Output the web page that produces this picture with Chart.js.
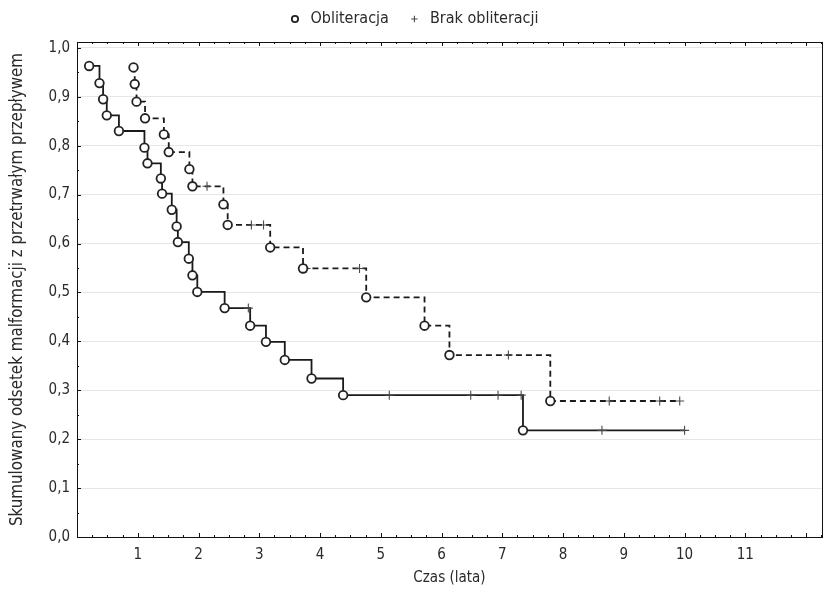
<!DOCTYPE html>
<html><head><meta charset="utf-8">
<script src="https://cdn.jsdelivr.net/npm/chart.js@4.4.1/dist/chart.umd.min.js"></script>
<style>html,body{margin:0;padding:0;background:#fff;}#wrap{width:828px;height:601px;}</style>
</head><body><div id="wrap"><canvas id="c" width="828" height="601"></canvas></div>
<script>
// Group 1 (solid line): event times and survival after each event
const solidTimes = [0.20, 0.37, 0.43, 0.49, 0.69, 1.11, 1.16, 1.38, 1.40, 1.56, 1.64, 1.66, 1.84, 1.90, 1.98, 2.43, 2.85, 3.11, 3.42, 3.86, 4.38, 7.34];
const solidSurv  = [0.963, 0.928, 0.895, 0.862, 0.830, 0.796, 0.764, 0.733, 0.702, 0.669, 0.635, 0.603, 0.569, 0.535, 0.501, 0.468, 0.432, 0.399, 0.362, 0.324, 0.290, 0.218];
const solidCensored = [2.82, 5.14, 6.48, 6.93, 7.31, 8.64, 10.0];
// Group 2 (dashed line)
const dashTimes = [0.93, 0.95, 0.98, 1.12, 1.43, 1.51, 1.85, 1.90, 2.41, 2.48, 3.18, 3.72, 4.76, 5.72, 6.13, 7.79];
const dashSurv  = [0.960, 0.926, 0.890, 0.856, 0.823, 0.787, 0.752, 0.717, 0.680, 0.638, 0.592, 0.549, 0.490, 0.432, 0.372, 0.278];
const dashCensored = [2.14, 2.87, 3.07, 3.77, 4.65, 7.10, 8.76, 9.59, 9.92];
// Labels
const legendLabels = ['Obliteracja', 'Brak obliteracji'];
const xTitle = 'Czas (lata)';
const yTitle = 'Skumulowany odsetek malformacji z przetrwałym przepływem';
const xTickValues = [1, 2, 3, 4, 5, 6, 7, 8, 9, 10, 11];

const FONT = "'Liberation Sans Narrow','Arial Narrow','DejaVu Sans Condensed','Liberation Sans',Arial,sans-serif";
const TXT = '#2a2a2a';

function survAt(times, surv, t) {
  let s = surv[0];
  for (let i = 0; i < times.length; i++) if (times[i] <= t) s = surv[i];
  return s;
}
function curve(times, surv, cens) {
  const pts = times.map((t, i) => ({x: t, y: surv[i]}));
  cens.forEach(t => pts.push({x: t, y: survAt(times, surv, t)}));
  pts.sort((a, b) => a.x - b.x);
  return pts;
}
const eventPts = solidTimes.map((t, i) => ({x: t, y: solidSurv[i]}))
  .concat(dashTimes.map((t, i) => ({x: t, y: dashSurv[i]})));
const censPts = solidCensored.map(t => ({x: t, y: survAt(solidTimes, solidSurv, t)}))
  .concat(dashCensored.map(t => ({x: t, y: survAt(dashTimes, dashSurv, t)})));

const framePlugin = {
  id: 'frame',
  afterDraw(chart) {
    const {ctx, chartArea: a, scales: {x, y}} = chart;
    ctx.save();
    ctx.strokeStyle = '#111';
    ctx.lineWidth = 1;
    ctx.strokeRect(Math.round(a.left) + 0.5, Math.round(a.top) + 0.5, Math.round(a.right - a.left), Math.round(a.bottom - a.top));
    ctx.beginPath();
    for (let v = 0; v <= x.max; v += 0.25) {
      const px = Math.round(x.getPixelForValue(v)) + 0.5;
      const len = Math.abs(v - Math.round(v)) < 1e-6 ? 4 : 2;
      ctx.moveTo(px, a.bottom); ctx.lineTo(px, a.bottom - len);
      ctx.moveTo(px, a.top); ctx.lineTo(px, a.top + len);
    }
    for (let k = 0; k <= 20; k++) {
      const v = k * 0.05;
      const py = Math.round(y.getPixelForValue(v)) + 0.5;
      const len = k % 2 === 0 ? 4 : 2;
      ctx.moveTo(a.left, py); ctx.lineTo(a.left + len, py);
    }
    ctx.stroke();
    ctx.restore();
  }
};

new Chart(document.getElementById('c'), {
  type: 'line',
  data: {
    datasets: [
      {type: 'scatter', label: legendLabels[0], data: eventPts, showLine: false,
       pointStyle: 'circle', pointRadius: 4.3, pointHoverRadius: 4.3, borderWidth: 1.8,
       borderColor: '#222222', backgroundColor: '#ffffff'},
      {type: 'scatter', label: legendLabels[1], data: censPts, showLine: false,
       pointStyle: 'cross', pointRadius: 4.5, pointHoverRadius: 4.5, borderWidth: 1.1,
       borderColor: '#4a4a4a', backgroundColor: '#4a4a4a'},
      {label: 'solid', data: curve(solidTimes, solidSurv, solidCensored), stepped: true,
       borderColor: '#1a1a1a', borderWidth: 1.8, pointRadius: 0, fill: false},
      {label: 'dashed', data: curve(dashTimes, dashSurv, dashCensored), stepped: true,
       borderColor: '#1a1a1a', borderWidth: 1.8, borderDash: [6, 4], pointRadius: 0, fill: false}
    ]
  },
  options: {
    responsive: false,
    devicePixelRatio: 1,
    animation: false,
    events: [],
    layout: {padding: {top: -7, right: 2, left: 0, bottom: 0}},
    plugins: {
      legend: {
        display: true, position: 'top', align: 'center',
        labels: {
          filter: item => item.datasetIndex < 2,
          usePointStyle: true, boxWidth: 15, boxHeight: 4.5, padding: 18,
          color: TXT, font: {family: FONT, size: 16}
        }
      },
      tooltip: {enabled: false}
    },
    scales: {
      x: {
        type: 'linear', min: 0, max: 12.26,
        afterFit: s => { s.height = 64; },
        grid: {display: false, drawTicks: false},
        border: {display: true, color: '#111', width: 1},
        ticks: {
          stepSize: 1, includeBounds: false, autoSkip: false, maxRotation: 0, padding: 9,
          color: TXT, font: {family: FONT, size: 15},
          callback: v => xTickValues.includes(v) ? String(v) : ''
        },
        title: {display: true, text: xTitle, color: TXT, font: {family: FONT, size: 15}, padding: {top: 0, bottom: 14}}
      },
      xTop: {
        type: 'linear', position: 'top', min: 0, max: 12.26,
        afterFit: s => { s.height = 5; },
        grid: {display: false, drawTicks: false},
        border: {display: false},
        ticks: {display: false}
      },
      y: {
        min: 0, max: 1.012,
        afterFit: s => { s.width = 77; },
        grid: {color: '#e6e6e6', drawTicks: false},
        border: {display: true, color: '#111', width: 1},
        ticks: {
          stepSize: 0.1, includeBounds: false, padding: 7,
          color: TXT, font: {family: FONT, size: 15},
          callback: v => v.toFixed(1).replace('.', ',')
        },
        title: {display: true, text: yTitle, color: TXT, font: {family: FONT, size: 16.8}, padding: {top: 8, bottom: 0}}
      }
    }
  },
  plugins: [framePlugin]
});
</script></body></html>
